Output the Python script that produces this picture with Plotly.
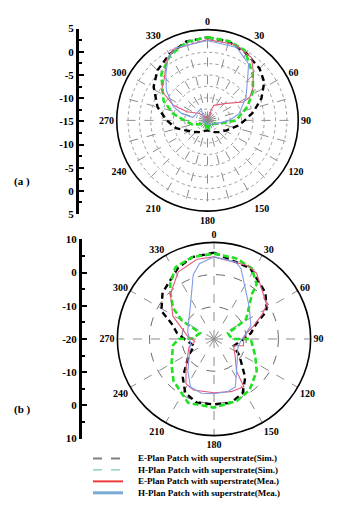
import plotly.graph_objects as go

# page has an 8px body margin: figure is sized to fit the 359x507 window
OFF = 8
W, H = 359 - OFF, 507 - OFF

# ---------------- (a) data: gain (dB) vs angle (deg) ----------------
a_esim_theta = [0, 15, 30, 45, 56, 68, 80, 90, 100, 118, 135, 150, 165, 180, 195, 210, 230, 247, 256, 270, 285, 302, 315, 330, 345, 360]
a_esim_r = [3.3, 3.0, 2.1, 1.2, 0.1, -2.2, -4.8, -6.8, -8.2, -10.3, -11.4, -12.0, -12.6, -12.8, -12.6, -12.0, -11.0, -9.5, -7.9, -6.0, -3.6, -1.0, 0.6, 1.8, 3.0, 3.3]

a_hsim_theta = [0, 15, 28, 44, 57, 71, 90, 103, 125, 150, 170, 180, 190, 210, 235, 255, 270, 281, 294, 315, 330, 345, 360]
a_hsim_r = [3.3, 3.1, 2.5, -0.7, -3.0, -5.7, -8.7, -12.0, -13.6, -14.2, -13.3, -12.8, -13.3, -14.2, -13.5, -11.5, -9.9, -7.3, -4.4, -0.6, 1.5, 2.9, 3.3]

a_emea_theta = [30, 19, 23, 48, 63, 61, 54, 43, 35, 20, 0, 334, 325, 315, 303, 294, 293, 311, 325, 30]
a_emea_r = [-14.1, -12.6, -11.4, -9.4, -6.1, -4.3, -2.6, -0.2, 1.9, 2.8, 2.8, 2.4, 0.9, -1.6, -2.9, -6.7, -10.1, -12.7, -14.2, -14.1]

a_hmea_theta = [180, 106, 90, 78, 59, 43, 36, 22, 0, 337, 328, 318, 306, 292, 285, 281, 332, 236, 180]
a_hmea_r = [-14.1, -12.6, -10.2, -7.9, -5.1, -2.0, 0.4, 2.3, 2.6, 2.4, 1.4, -1.3, -3.8, -6.9, -9.1, -11.7, -12.0, -14.2, -14.1]

# ---------------- (b) data ----------------
b_esim_theta = [0, 27, 48, 62, 70, 81, 90, 109, 123, 141, 152, 165, 180, 195, 208, 219, 237, 251, 270, 279, 290, 298, 312, 333, 345, 360]
b_esim_r = [6.8, 4.7, 1.5, -1.5, -6.0, -8.4, -10.8, -13.5, -10.6, -4.6, -1.0, 0.5, 0.3, 0.5, -1.0, -4.6, -10.6, -13.5, -10.8, -8.4, -6.0, -1.5, 1.5, 4.7, 6.3, 6.8]

b_hsim_theta = [0, 15, 28, 38, 40, 58, 62, 67, 80, 90, 90, 112, 127, 145, 160, 180, 202, 224, 239, 261, 270, 272, 285, 293, 298, 300, 307, 317, 322, 332, 345, 360]
b_hsim_r = [6.5, 6.0, 4.9, 1.5, -1.6, -8.2, -12.1, -15.3, -15.0, -13.9, -8.6, -6.2, -3.4, -0.7, 0.5, 1.3, 1.4, -1.9, -4.6, -7.1, -9.0, -13.5, -14.8, -15.3, -12.1, -8.5, -4.1, -0.1, 2.0, 5.3, 6.3, 6.5]

b_emea_theta = [0, 25, 33, 57, 63, 73, 80, 90, 103, 109, 128, 145, 148, 162, 180, 202, 212, 224, 252, 263, 276, 299, 316, 332, 348, 360]
b_emea_r = [5.5, 5.1, 4.3, -0.5, -3.2, -7.5, -9.8, -10.8, -10.6, -13.6, -11.7, -7.8, -2.5, -2.8, -3.3, -2.9, -3.6, -7.5, -11.8, -14.0, -11.8, -5.4, -0.5, 3.6, 5.3, 5.5]

b_hmea_theta = [0, 16, 21, 47, 70, 95, 110, 145, 156, 165, 180, 193, 206, 219, 261, 286, 324, 342, 349, 360]
b_hmea_r = [5.5, 4.8, 3.4, -5.1, -7.8, -11.7, -12.1, -7.8, -3.7, -3.1, -3.0, -2.7, -3.4, -7.1, -12.6, -11.5, -7.5, 0.9, 3.8, 5.5]

a_bar_vals = [-20, -15, -10, -5, 0, 5, 10, 15, 20]
a_bar_text = ["5", "0", "-5", "-10", "-15", "-10", "-5", "0", "5"]
b_bar_vals = [-30, -20, -10, 0, 10, 20, 30]
b_bar_text = ["10", "0", "-10", "-20", "-10", "0", "10"]

legend_names = [
    "E-Plan Patch with superstrate(Sim.)",
    "H-Plan Patch with superstrate(Sim.)",
    "E-Plan Patch with superstrate(Mea.)",
    "H-Plan Patch with superstrate(Mea.)",
]

SERIF = "Liberation Serif, Times New Roman, serif"
C_ESIM, C_HSIM, C_EMEA, C_HMEA = "#000000", "#22e022", "#e05a78", "#7f9be6"


def fx(x):  # window pixel -> paper fraction
    return (x - OFF) / W


def fy(y):
    return 1 - (y - OFF) / H


fig = go.Figure()


def add(theta, r, name, color, width, dash, sub):
    fig.add_trace(go.Scatterpolar(
        theta=theta, r=r, mode="lines", name=name, subplot=sub,
        line=dict(color=color, width=width, dash=dash),
        showlegend=False, hoverinfo="skip"))


for sub, d in (("polar", (a_esim_theta, a_esim_r, a_hsim_theta, a_hsim_r, a_emea_theta, a_emea_r, a_hmea_theta, a_hmea_r)),
               ("polar2", (b_esim_theta, b_esim_r, b_hsim_theta, b_hsim_r, b_emea_theta, b_emea_r, b_hmea_theta, b_hmea_r))):
    add(d[0], d[1], legend_names[0], C_ESIM, 2.4, "6px,4px", sub)
    add(d[2], d[3], legend_names[1], C_HSIM, 2.6, "6px,3px", sub)
    add(d[4], d[5], legend_names[2], C_EMEA, 1.1, "solid", sub)
    add(d[6], d[7], legend_names[3], C_HMEA, 1.1, "solid", sub)

# empty carriers so that the two radial scale bars are drawn
fig.add_trace(go.Scatter(x=[], y=[], xaxis="x", yaxis="y", showlegend=False, hoverinfo="skip"))
fig.add_trace(go.Scatter(x=[], y=[], xaxis="x2", yaxis="y2", showlegend=False, hoverinfo="skip"))


def px_dom(cx, cy, rad):
    return dict(x=[fx(cx - rad), fx(cx + rad)], y=[fy(cy + rad), fy(cy - rad)])


tickfont = dict(family=SERIF, size=11, color="black", weight="bold")
angfont = dict(family=SERIF, size=10, color="black", weight="bold")


def ang_axis(step, labels_every=30):
    vals = list(range(0, 360, step))
    return dict(rotation=90, direction="clockwise", tickmode="array", tickvals=vals,
                ticktext=[str(v) if v % labels_every == 0 else "" for v in vals],
                ticks="", showline=True, linecolor="black", linewidth=1.6,
                gridcolor="#8c8c8c", griddash="dash", gridwidth=0.8, tickfont=angfont)


def bar_axis(y0, y1, rng, vals, text, xpos, minor_dt):
    return dict(domain=[fy(y1), fy(y0)], range=rng, anchor="free", position=fx(xpos),
                tickmode="array", tickvals=vals, ticktext=text, fixedrange=True,
                showline=True, linecolor="black", linewidth=3, ticks="inside", ticklen=5,
                tickwidth=2, tickcolor="black", showgrid=False, zeroline=False, tickfont=tickfont,
                minor=dict(tickmode="linear", dtick=minor_dt, ticks="inside", ticklen=3,
                           tickcolor="black", tickwidth=1.5, showgrid=False))


fig.update_layout(
    width=W, height=H, margin=dict(l=0, r=0, t=0, b=0),
    paper_bgcolor="white", plot_bgcolor="rgba(0,0,0,0)", showlegend=False,
    polar=dict(domain=px_dom(207.5, 117, 93), bgcolor="white",
               radialaxis=dict(range=[-15, 5], tickvals=[-12.5, -10, -7.5, -5, -2.5, 0, 2.5],
                               showticklabels=False, ticks="", showline=False,
                               gridcolor="#9a9a9a", griddash="dot", gridwidth=0.8),
               angularaxis=ang_axis(15)),
    polar2=dict(domain=px_dom(214, 341, 99), bgcolor="white",
                radialaxis=dict(range=[-20, 10], tickvals=[-10, 0],
                                showticklabels=False, ticks="", showline=False,
                                gridcolor="#6a6a6a", griddash="dash", gridwidth=0.8),
                angularaxis=ang_axis(30)),
    xaxis=dict(domain=[fx(78), fx(80)], visible=False, range=[0, 1], anchor="y", fixedrange=True),
    yaxis=bar_axis(23, 213, [-20, 20], a_bar_vals, a_bar_text, 77, 2.5),
    xaxis2=dict(domain=[fx(81), fx(83)], visible=False, range=[0, 1], anchor="y2", fixedrange=True),
    yaxis2=bar_axis(239, 443, [-30, 30], b_bar_vals, b_bar_text, 80, 5),
)

# panel labels
for txt, y in (("(a )", 180), ("(b )", 413)):
    fig.add_annotation(x=fx(12), y=fy(y), xref="paper", yref="paper", text=txt, showarrow=False,
                       xanchor="left", yanchor="middle",
                       font=dict(family=SERIF, size=11, color="black", weight="bold"))

# legend key: sample lines + one multi-line text block
leg_rows = [463.5, 475.2, 486.9, 498.6]
leg_styles = [("#808080", 2, "dash"), ("#7cc9b6", 1.2, "dash"), ("#ee3b3b", 2, "solid"), ("#7aaad6", 3, "solid")]
for yy, (col, wd, ds) in zip(leg_rows, leg_styles):
    fig.add_shape(type="line", xref="paper", yref="paper", x0=fx(93), x1=fx(123),
                  y0=fy(yy), y1=fy(yy), line=dict(color=col, width=wd, dash=ds))
fig.add_annotation(x=fx(136), y=fy(sum(leg_rows) / 4), xref="paper", yref="paper",
                   text="<br>".join(legend_names), showarrow=False, align="left",
                   xanchor="left", yanchor="middle",
                   font=dict(family=SERIF, size=9, color="black", weight="bold"))

fig.write_html("out.html")
